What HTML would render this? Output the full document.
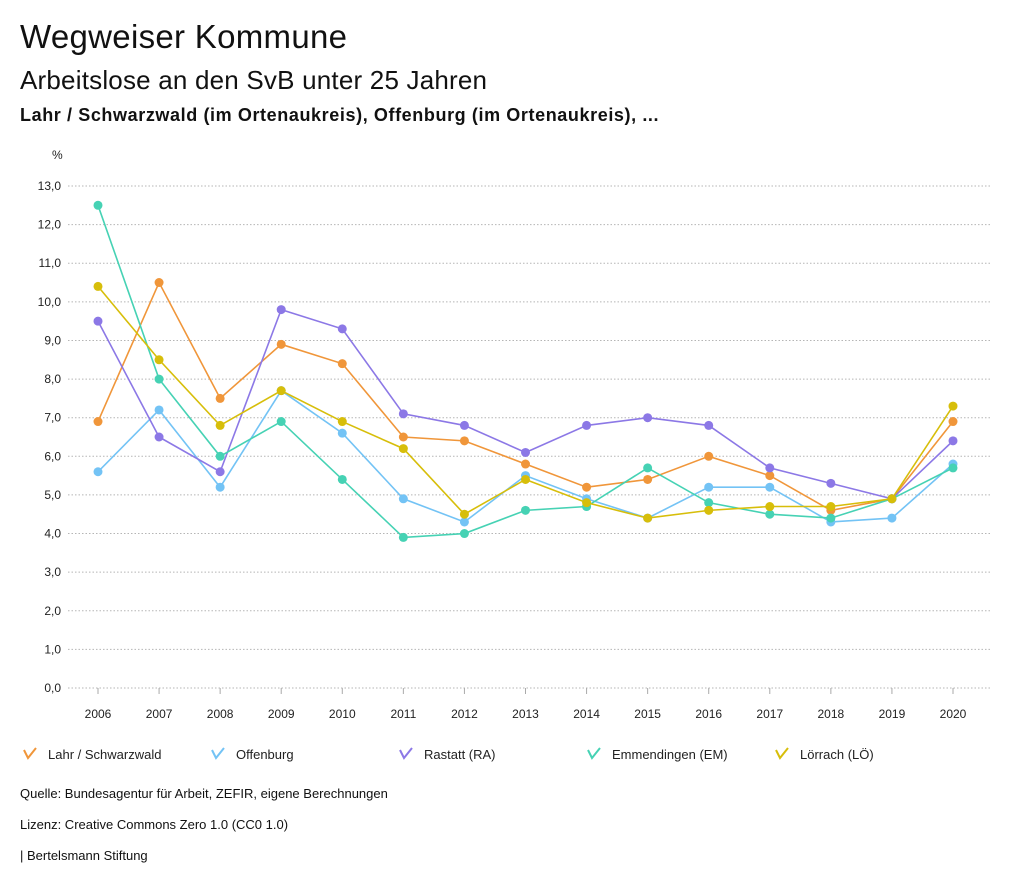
<!DOCTYPE html>
<html><head><meta charset="utf-8">
<style>
body{margin:0;background:#fff;font-family:"Liberation Sans",sans-serif;color:#111;}
#wrap{position:relative;width:1024px;height:888px;overflow:hidden;}
.t{position:absolute;white-space:nowrap;}
</style></head>
<body><div id="wrap">
<div class="t" style="left:20px;top:18px;font-size:33px;letter-spacing:0.3px;">Wegweiser Kommune</div>
<div class="t" style="left:20px;top:65px;font-size:26px;letter-spacing:0.2px;">Arbeitslose an den SvB unter 25 Jahren</div>
<div class="t" style="left:20px;top:105px;font-size:18px;font-weight:bold;letter-spacing:0.6px;">Lahr / Schwarzwald (im Ortenaukreis), Offenburg (im Ortenaukreis), ...</div>
<svg id="chart" width="1024" height="888" style="position:absolute;left:0;top:0"></svg>
<div class="t" style="left:20px;top:786px;font-size:13px;">Quelle: Bundesagentur für Arbeit, ZEFIR, eigene Berechnungen</div>
<div class="t" style="left:20px;top:817px;font-size:13px;">Lizenz: Creative Commons Zero 1.0 (CC0 1.0)</div>
<div class="t" style="left:20px;top:848px;font-size:13px;">| Bertelsmann Stiftung</div>
</div>
<script>
const years=[2006,2007,2008,2009,2010,2011,2012,2013,2014,2015,2016,2017,2018,2019,2020];
const yTicks=[0,1,2,3,4,5,6,7,8,9,10,11,12,13];
const seriesNames=["Lahr / Schwarzwald","Offenburg","Rastatt (RA)","Emmendingen (EM)","Lörrach (LÖ)"];
const seriesColors=["#f0963a","#73c3f5","#8c78e6","#46d2b4","#d7be0a"];
const lahr=[6.9,10.5,7.5,8.9,8.4,6.5,6.4,5.8,5.2,5.4,6.0,5.5,4.6,4.9,6.9];
const offenburg=[5.6,7.2,5.2,7.7,6.6,4.9,4.3,5.5,4.9,4.4,5.2,5.2,4.3,4.4,5.8];
const rastatt=[9.5,6.5,5.6,9.8,9.3,7.1,6.8,6.1,6.8,7.0,6.8,5.7,5.3,4.9,6.4];
const emmendingen=[12.5,8.0,6.0,6.9,5.4,3.9,4.0,4.6,4.7,5.7,4.8,4.5,4.4,4.9,5.7];
const loerrach=[10.4,8.5,6.8,7.7,6.9,6.2,4.5,5.4,4.8,4.4,4.6,4.7,4.7,4.9,7.3];
const allSeries=[lahr,offenburg,rastatt,emmendingen,loerrach];

const svg=document.getElementById('chart');
const NS='http://www.w3.org/2000/svg';
const x=i=>98+i*(953-98)/(years.length-1);
const y=v=>688-v*(688-186)/13;
function mk(tag,attrs,parent){const e=document.createElementNS(NS,tag);for(const k in attrs)e.setAttribute(k,attrs[k]);(parent||svg).appendChild(e);return e;}

const u=mk('text',{x:52,y:159,'font-size':12,'font-family':'Liberation Sans,sans-serif',fill:'#222'});
u.textContent='%';


yTicks.forEach(v=>{
  const l=mk('line',{x1:68,x2:990,y1:y(v),y2:y(v),stroke:'#b5b5b5','stroke-dasharray':'1.5,2','stroke-width':1});
  
  
  const t=mk('text',{x:61,y:y(v)+4,'text-anchor':'end','font-size':12,'font-family':'Liberation Sans,sans-serif',fill:'#222'});
  t.textContent=v.toFixed(1).replace('.',',');
  
  
});
years.forEach((yr,i)=>{
  const tk=mk('line',{x1:x(i),x2:x(i),y1:688,y2:694,stroke:'#aaa'});
  
  
  const t=mk('text',{x:x(i),y:718,'text-anchor':'middle','font-size':12,'font-family':'Liberation Sans,sans-serif',fill:'#222'});
  t.textContent=yr;
  
  
});
allSeries.forEach((s,si)=>{
  const g=mk('g',{});
  
  
  const p=mk('polyline',{points:s.map((v,i)=>x(i)+','+y(v)).join(' '),fill:'none',stroke:seriesColors[si],'stroke-width':1.6},g);
  
  
  s.forEach((v,i)=>{
    const c=mk('circle',{cx:x(i),cy:y(v),r:4.5,fill:seriesColors[si]},g);
    
    
  });
});
const legX=[24,212,400,588,776];
seriesNames.forEach((n,i)=>{
  const g=mk('g',{});
  
  
  const lx=legX[i];
  mk('polyline',{points:`${lx},${750} ${lx+4},${758} ${lx+12},${748}`,fill:'none',stroke:seriesColors[i],'stroke-width':2},g);
  const t=mk('text',{x:lx+24,y:759,'font-size':13,'font-family':'Liberation Sans,sans-serif',fill:'#222'},g);
  t.textContent=n;
});
</script>
</body></html>
